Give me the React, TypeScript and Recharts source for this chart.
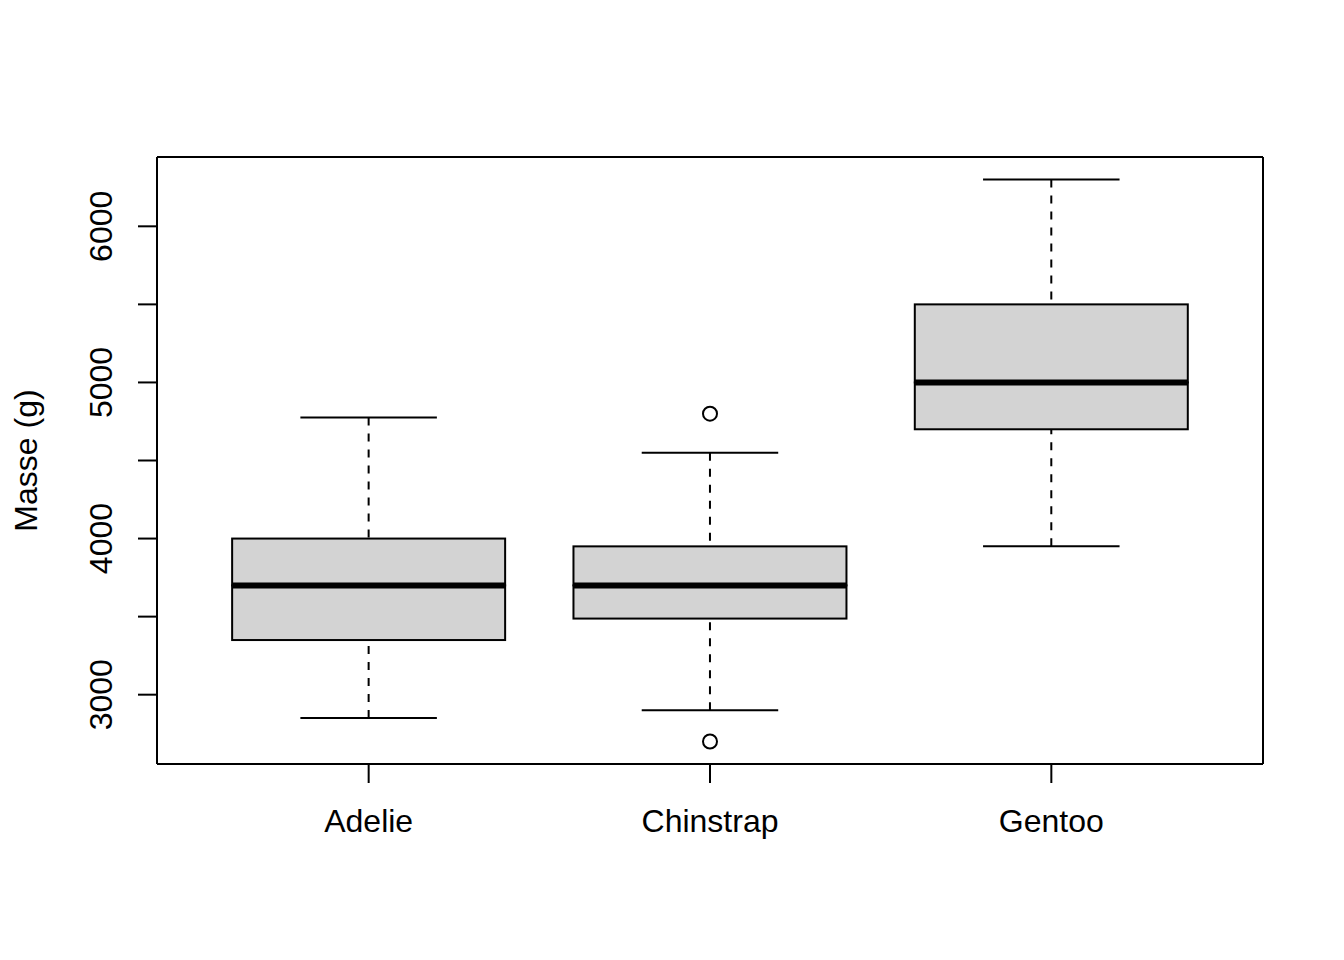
import { Bar, ComposedChart, Line, XAxis, YAxis } from "recharts";

const FONT = "'Liberation Sans', Arial, Helvetica, sans-serif";
const FONT_SIZE = 32;

// body mass per species
const SPECIES = ["Adelie", "Chinstrap", "Gentoo"];
const WHISKER_LOW = [2850, 2900, 3950];
const Q1 = [3350, 3487.5, 4700];
const MEDIAN = [3700, 3700, 5000];
const Q3 = [4000, 3950, 5500];
const WHISKER_HIGH = [4775, 4550, 6300];
const OUTLIER_HIGH = [null, 4800, null];
const OUTLIER_LOW = [null, 2700, null];

const Y_TICKS = [3000, 3500, 4000, 4500, 5000, 5500, 6000];
const Y_DOMAIN = [2556, 6444];
const Y_TITLE = "Masse (g)";

// stacked segments: invisible base up to the lower whisker, then each piece of the box
const data = SPECIES.map((species, i) => ({
	species,
	base: WHISKER_LOW[i],
	lowWhisker: Q1[i] - WHISKER_LOW[i],
	lowBox: MEDIAN[i] - Q1[i],
	highBox: Q3[i] - MEDIAN[i],
	highWhisker: WHISKER_HIGH[i] - Q3[i],
	outHigh: OUTLIER_HIGH[i],
	outLow: OUTLIER_LOW[i],
}));

const Empty = () => <g />;

const LowWhisker = (p: any) => {
	const cx = p.x + p.width / 2;
	const bottom = p.y + p.height;
	return (
		<g>
			<line x1={cx} y1={bottom} x2={cx} y2={p.y} stroke="#000" strokeWidth={2} strokeDasharray="8 8" />
			<line x1={p.x + p.width / 4} x2={p.x + (p.width * 3) / 4} y1={bottom} y2={bottom} stroke="#000" strokeWidth={2} />
		</g>
	);
};

const HighWhisker = (p: any) => {
	const cx = p.x + p.width / 2;
	const bottom = p.y + p.height;
	return (
		<g>
			<line x1={cx} y1={p.y} x2={cx} y2={bottom} stroke="#000" strokeWidth={2} strokeDasharray="8 8" />
			<line x1={p.x + p.width / 4} x2={p.x + (p.width * 3) / 4} y1={p.y} y2={p.y} stroke="#000" strokeWidth={2} />
		</g>
	);
};

const LowBox = (p: any) => (
	<rect x={p.x} y={p.y} width={p.width} height={p.height} fill="#d3d3d3" stroke="#000" strokeWidth={2} />
);

const HighBox = (p: any) => {
	const bottom = p.y + p.height;
	return (
		<g>
			<rect x={p.x} y={p.y} width={p.width} height={p.height} fill="#d3d3d3" stroke="#000" strokeWidth={2} />
			<line x1={p.x} x2={p.x + p.width} y1={bottom} y2={bottom} stroke="#000" strokeWidth={6} />
		</g>
	);
};

const Outlier = (p: any) => {
	if (p.value == null || p.cy == null || !Number.isFinite(p.cy)) {
		return <g key={p.key} />;
	}
	return <circle key={p.key} cx={p.cx} cy={p.cy} r={7} fill="none" stroke="#000" strokeWidth={2} />;
};

const YTick = (p: any) => {
	const v = p.payload.value;
	if (v % 1000 !== 0) return <g />;
	return (
		<text
			x={p.x}
			y={p.y}
			transform={`rotate(-90 ${p.x} ${p.y})`}
			textAnchor="middle"
			fontSize={FONT_SIZE}
			fontFamily={FONT}
			fill="#000"
		>
			{v}
		</text>
	);
};

const XTick = (p: any) => (
	<text x={p.x} y={p.y} textAnchor="middle" fontSize={FONT_SIZE} fontFamily={FONT} fill="#000">
		{p.payload.value}
	</text>
);

const YTitle = (p: any) => {
	const vb = p.viewBox ?? { x: 0, y: 157, width: 157, height: 607 };
	const x = vb.x + 37;
	const y = vb.y + vb.height / 2;
	return (
		<text
			x={x}
			y={y}
			transform={`rotate(-90 ${x} ${y})`}
			textAnchor="middle"
			fontSize={FONT_SIZE}
			fontFamily={FONT}
			fill="#000"
		>
			{Y_TITLE}
		</text>
	);
};

export default function App() {
	const axisLine = { stroke: "#000", strokeWidth: 2 };
	const tickLine = { stroke: "#000", strokeWidth: 2 };
	return (
		<div style={{ position: "absolute", left: 0, top: 0, width: 1344, height: 960, background: "#fff" }}>
			<ComposedChart
				width={1344}
				height={960}
				data={data}
				margin={{ top: 156, right: 80, bottom: 136, left: 0 }}
				barCategoryGap="10%"
			>
				<XAxis
					dataKey="species"
					type="category"
					padding={{ left: 41, right: 41 }}
					height={60}
					axisLine={axisLine}
					tickLine={tickLine}
					tickSize={19}
					tickMargin={49}
					tick={<XTick />}
					interval={0}
				/>
				<XAxis
					xAxisId="top"
					dataKey="species"
					orientation="top"
					height={1}
					axisLine={axisLine}
					tick={false}
					tickLine={false}
				/>
				<YAxis
					type="number"
					domain={Y_DOMAIN}
					allowDataOverflow
					ticks={Y_TICKS}
					interval={0}
					width={157}
					axisLine={axisLine}
					tickLine={tickLine}
					tickSize={19}
					tickMargin={26}
					tick={<YTick />}
					label={{ content: (p: any) => <YTitle viewBox={p.viewBox} /> }}
				/>
				<YAxis
					yAxisId="right"
					orientation="right"
					type="number"
					domain={Y_DOMAIN}
					allowDataOverflow
					width={1}
					axisLine={axisLine}
					tick={false}
					tickLine={false}
				/>
				<Bar dataKey="base" stackId="box" shape={<Empty />} isAnimationActive={false} />
				<Bar dataKey="lowWhisker" stackId="box" shape={<LowWhisker />} isAnimationActive={false} />
				<Bar dataKey="lowBox" stackId="box" shape={<LowBox />} isAnimationActive={false} />
				<Bar dataKey="highBox" stackId="box" shape={<HighBox />} isAnimationActive={false} />
				<Bar dataKey="highWhisker" stackId="box" shape={<HighWhisker />} isAnimationActive={false} />
				<Line dataKey="outHigh" stroke="none" dot={Outlier} activeDot={false} isAnimationActive={false} />
				<Line dataKey="outLow" stroke="none" dot={Outlier} activeDot={false} isAnimationActive={false} />
			</ComposedChart>
		</div>
	);
}
